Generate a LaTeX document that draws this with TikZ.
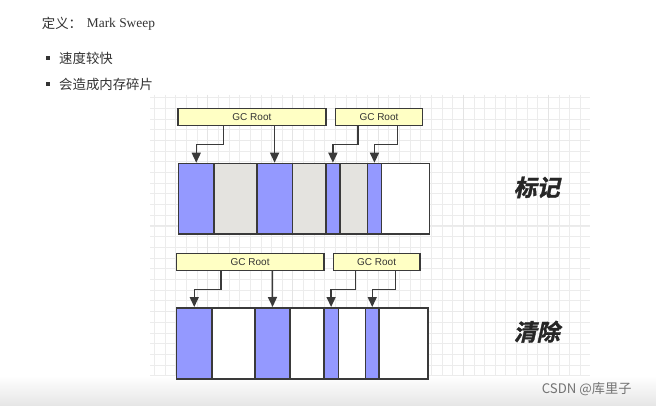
\documentclass[tikz,border=0pt]{standalone}
\usepackage{fontspec}
\setmainfont{Liberation Serif}
\newfontfamily\cjk{Noto Sans CJK SC}
\newfontfamily\cjkbi[FakeSlant=0.22,FakeBold=1.5]{Noto Sans CJK SC Bold}
\newfontfamily\sans{Liberation Sans}
\usetikzlibrary{arrows.meta}
\definecolor{memblue}{HTML}{9499FF}
\definecolor{memgray}{HTML}{E4E3DF}
\definecolor{rootyel}{HTML}{FFFFC4}
\definecolor{edge}{HTML}{3A3A3A}
\definecolor{txt}{HTML}{333333}
\definecolor{gridminor}{HTML}{ECECEC}
\definecolor{gridmajor}{HTML}{E4E4E4}
\tikzset{
  seg/.style={draw=edge, line width=1.5pt, inner sep=0pt, anchor=north west, minimum height=70.6pt},
  rootbox/.style={draw=edge, line width=1.2pt, fill=rootyel, inner sep=0pt, anchor=north west, minimum height=16.7pt, font=\sans\fontsize{10}{11}\selectfont, text=txt},
  arr/.style={draw=edge, line width=1.5pt, -{Triangle[length=10pt,width=9pt]}},
  body/.style={font=\cjk\fontsize{13.4}{16}\selectfont, text=txt, inner sep=0pt, anchor=west},
  bigl/.style={font=\cjkbi\fontsize{23}{26}\selectfont, text=black!85, inner sep=0pt},
  bullet/.style={fill=txt, minimum size=4pt, inner sep=0pt},
}
\begin{document}
\begin{tikzpicture}[x=1pt,y=-1pt]
\useasboundingbox (0,0) rectangle (656,406);
\fill[white] (0,0) rectangle (656,406);
% grid
\begin{scope}
\clip (150,95) rectangle (590,385);
\foreach \k in {-30,...,12} {
  \draw[gridminor, line width=0.9pt] ({463.3+10.65*\k},95) -- ({463.3+10.65*\k},385);
}
\foreach \k in {-13,...,15} {
  \draw[gridminor, line width=0.9pt] (150,{226+10.7*\k}) -- (590,{226+10.7*\k});
}
\foreach \k in {-4,...,1} {
  \draw[gridmajor, line width=1.1pt] ({463.3+85.2*\k},95) -- ({463.3+85.2*\k},385);
}
\foreach \k in {-1,...,1} {
  \draw[gridminor!70!gridmajor, line width=1pt] (150,{226+85.6*\k}) -- (590,{226+85.6*\k});
}
\end{scope}
\shade[top color=white, bottom color=black!10] (0,376) rectangle (656,406);

% header text
\node[body] (def) at (41.7,23.5) {定义：};
\node[font=\fontsize{13.4}{16}\selectfont, text=txt, inner sep=0pt, anchor=west] (ms) at (86.7,24) {Mark Sweep};
\node[bullet] (b1) at (48.3,58.5) {};
\node[bullet] (b2) at (48.3,84) {};
\node[body] (t1) at (59,58) {速度较快};
\node[body] (t2) at (59,84) {会造成内存碎片};

% top row (mark)
\node[rootbox, minimum width=148pt] (ga) at (177.3,108.3) {GC Root};
\node[rootbox, minimum width=86.7pt] (gb) at (335,108.3) {GC Root};
\node[seg, fill=memblue, minimum width=35.6pt] (a1) at (177.7,162.7) {};
\node[seg, fill=memgray, minimum width=42.7pt] (a2) at (213.3,162.7) {};
\node[seg, fill=memblue, minimum width=35.7pt] (a3) at (256,162.7) {};
\node[seg, fill=memgray, minimum width=33.3pt] (a4) at (291.7,162.7) {};
\node[seg, fill=memblue, minimum width=14.3pt] (a5) at (325,162.7) {};
\node[seg, fill=memgray, minimum width=27.4pt] (a6) at (339.3,162.7) {};
\node[seg, fill=memblue, minimum width=14pt] (a7) at (366.7,162.7) {};
\node[seg, fill=white, minimum width=48pt] (a8) at (380.7,162.7) {};
\draw[arr] ([xshift=-28.6pt]ga.south) -- ++(0,18.3) -| (a1.north);
\draw[arr] ([xshift=22.7pt]ga.south) -- (a3.north);
\draw[arr] ([xshift=-21pt]gb.south) -- ++(0,18.3) -| (a5.north);
\draw[arr] ([xshift=18.4pt]gb.south) -- ++(0,18.3) -| (a7.north);
\node[bigl] (mark) at (536.7,187.3) {标记};

% bottom row (sweep)
\node[rootbox, minimum width=147.6pt] (gc) at (175.7,253.3) {GC Root};
\node[rootbox, minimum width=86.6pt] (gd) at (332.7,253.3) {GC Root};
\node[seg, fill=memblue, minimum width=35.6pt, minimum height=71.3pt] (c1) at (175.7,307) {};
\node[seg, fill=white, minimum width=43pt, minimum height=71.3pt] (c2) at (211.3,307) {};
\node[seg, fill=memblue, minimum width=35pt, minimum height=71.3pt] (c3) at (254.3,307) {};
\node[seg, fill=white, minimum width=33.7pt, minimum height=71.3pt] (c4) at (289.3,307) {};
\node[seg, fill=memblue, minimum width=14.7pt, minimum height=71.3pt] (c5) at (323,307) {};
\node[seg, fill=white, minimum width=27pt, minimum height=71.3pt] (c6) at (337.7,307) {};
\node[seg, fill=memblue, minimum width=13.6pt, minimum height=71.3pt] (c7) at (364.7,307) {};
\node[seg, fill=white, minimum width=49pt, minimum height=71.3pt] (c8) at (378.3,307) {};
\draw[arr] ([xshift=-29.2pt]gc.south) -- ++(0,18.3) -| (c1.north);
\draw[arr] ([xshift=22.2pt]gc.south) -- (c3.north);
\draw[arr] ([xshift=-21pt]gd.south) -- ++(0,18.3) -| (c5.north);
\draw[arr] ([xshift=19pt]gd.south) -- ++(0,18.3) -| (c7.north);
\node[bigl] (sweep) at (536.7,331.7) {清除};

% watermark
\node[font=\cjk\fontsize{13.2}{15}\selectfont, text=black!55, inner sep=0pt, anchor=west] (wm) at (541.7,389.3) {CSDN @库里子};
\end{tikzpicture}
\end{document}
